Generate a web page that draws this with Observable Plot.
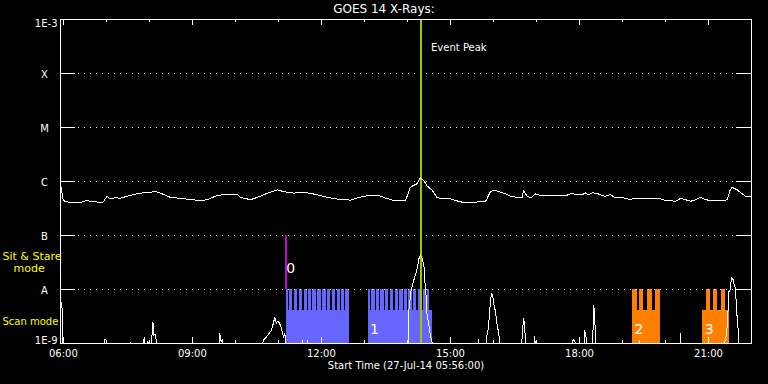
<!DOCTYPE html>
<html><head><meta charset="utf-8">
<script src="https://cdn.jsdelivr.net/npm/d3@7"></script>
<script src="https://cdn.jsdelivr.net/npm/@observablehq/plot@0.6"></script>
<style>html,body{margin:0;padding:0;background:#000;overflow:hidden}</style>
</head><body><div id="chart"></div>
<script>
// ---------- data ----------
const titleText = "GOES 14 X-Rays:";
const xAxisTitle = "Start Time (27-Jul-14 05:56:00)";
const day = "2014-07-27";
const startTime = "05:56";
const endTime = "22:00";

const yTickValues = [1e-3, 1e-4, 1e-5, 1e-6, 1e-7, 1e-8, 1e-9];
const yTickLabels = ["1E-3", "X", "M", "C", "B", "A", "1E-9"];
const flareLevels = [1e-4, 1e-5, 1e-6, 1e-7, 1e-8];

const xTickLabels = ["06:00", "09:00", "12:00", "15:00", "18:00", "21:00"];
const xMinorTicks = ["07:00","08:00","10:00","11:00","13:00","14:00","16:00","17:00","19:00","20:00","22:00"];

// GOES long channel (1-8 A), W/m^2
const longChannel = [
  ["05:57",7.8e-7],["05:59",5.1e-7],["06:00",4.5e-7],["06:03",4.2e-7],["06:15",4.1e-7],["06:25",4.1e-7],
  ["06:31",4.4e-7],["06:40",4.3e-7],["06:50",4.1e-7],["06:55",4.1e-7],["07:01",5.3e-7],["07:05",4.8e-7],
  ["07:12",5.0e-7],["07:20",4.9e-7],["07:30",5.4e-7],["07:40",5.8e-7],["07:47",6.1e-7],["08:00",6.2e-7],
  ["08:08",6.6e-7],["08:18",5.9e-7],["08:29",5.1e-7],["08:47",4.8e-7],["09:00",4.6e-7],["09:11",4.45e-7],
  ["09:21",4.6e-7],["09:34",5.5e-7],["09:43",5.7e-7],["10:03",5.7e-7],["10:07",5.1e-7],["10:21",4.6e-7],
  ["10:31",5.1e-7],["10:45",6.1e-7],["10:59",7.0e-7],["11:07",6.5e-7],["11:21",6.1e-7],["11:38",6.25e-7],
  ["11:54",5.7e-7],["12:08",5.1e-7],["12:27",4.6e-7],["12:37",4.6e-7],["12:40",4.45e-7],["12:50",5.0e-7],
  ["13:04",5.45e-7],["13:22",5.4e-7],["13:30",4.9e-7],["13:40",4.5e-7],["13:57",4.5e-7],["13:59",5.1e-7],
  ["14:04",7.8e-7],["14:08",8.4e-7],["14:13",9.0e-7],["14:18",1.17e-6],["14:23",1.04e-6],["14:27",8.4e-7],
  ["14:34",7.0e-7],["14:41",5.1e-7],["14:46",4.8e-7],["15:00",4.8e-7],["15:07",4.45e-7],["15:21",4.0e-7],
  ["15:35",4.0e-7],["15:38",4.3e-7],["15:49",4.3e-7],["15:51",4.8e-7],["15:56",6.6e-7],["16:03",6.8e-7],
  ["16:10",6.3e-7],["16:17",5.9e-7],["16:24",5.3e-7],["16:33",5.1e-7],["16:40",5.1e-7],["16:42",6.8e-7],
  ["16:47",5.3e-7],["16:52",5.0e-7],["16:59",5.9e-7],["17:06",5.5e-7],["17:20",5.5e-7],["17:43",5.6e-7],
  ["17:47",5.9e-7],["18:01",5.8e-7],["18:05",5.8e-7],["18:08",6.2e-7],["18:12",5.7e-7],["18:19",6.2e-7],
  ["18:26",5.9e-7],["18:36",5.3e-7],["18:43",5.7e-7],["18:50",5.0e-7],["19:01",5.0e-7],["19:11",4.6e-7],
  ["19:15",4.9e-7],["19:21",4.8e-7],["19:35",4.8e-7],["19:39",4.9e-7],["19:49",4.9e-7],["19:53",4.8e-7],
  ["20:00",4.45e-7],["20:07",4.45e-7],["20:14",4.25e-7],["20:21",4.9e-7],["20:28",4.6e-7],["20:35",4.3e-7],
  ["20:42",4.6e-7],["20:49",5.1e-7],["20:56",4.6e-7],["21:03",4.45e-7],["21:21",4.45e-7],["21:26",4.6e-7],
  ["21:30",6.8e-7],["21:33",7.8e-7],["21:40",7.0e-7],["21:47",5.9e-7],["21:52",5.3e-7],["22:00",5.3e-7]
];

// GOES short channel (0.5-4 A), W/m^2 (values below 1E-9 fall off the plot)
const shortChannel = [
  ["05:57",5.8e-9],["05:58",5.8e-9],["05:59",7e-10],
  ["06:57",7e-10],["06:58",1.2e-9],["07:00",1.15e-9],["07:01",7e-10],
  ["07:32",7e-10],["07:33",1.05e-9],["07:34",7e-10],
  ["07:48",7e-10],["07:52",1.1e-9],["07:53",1.3e-9],["07:55",7e-10],["07:58",1.1e-9],["08:00",7e-10],
  ["08:03",1.1e-9],["08:05",2.45e-9],["08:06",1.4e-9],["08:08",1.5e-9],["08:10",1.05e-9],["08:11",7e-10],
  ["09:37",7e-10],["09:38",1.55e-9],["09:40",1.1e-9],["09:42",1.2e-9],["09:43",7e-10],
  ["10:36",7e-10],["10:39",1.14e-9],["10:43",1.31e-9],["10:46",1.47e-9],["10:50",1.74e-9],["10:53",2.38e-9],
  ["10:55",3.07e-9],["10:57",2.35e-9],["10:59",2.59e-9],["11:01",2.45e-9],["11:04",2.0e-9],["11:05",1.74e-9],
  ["11:07",1.31e-9],["11:09",1.55e-9],["11:10",1.05e-9],["11:12",7e-10],
  ["11:33",7e-10],["11:34",1.14e-9],["11:35",7e-10],["11:40",7e-10],["11:41",1.14e-9],["11:42",7e-10],
  ["14:00",7e-10],["14:01",1.06e-9],["14:02",4.08e-9],["14:05",9.57e-9],["14:08",1.36e-8],["14:11",1.82e-8],
  ["14:14",2.59e-8],["14:16",3.71e-8],["14:18",4.27e-8],["14:20",3.97e-8],["14:23",2.78e-8],["14:24",1.6e-8],
  ["14:26",7.74e-9],["14:27",3.8e-9],["14:30",2.15e-9],["14:32",1.41e-9],["14:34",1.14e-9],["14:36",7e-10],
  ["15:38",7e-10],["15:39",1.19e-9],["15:40",7e-10],
  ["15:50",7e-10],["15:51",1.41e-9],["15:53",2.0e-9],["15:55",4.39e-9],["15:57",8.32e-9],["15:59",7.74e-9],
  ["16:00",5.82e-9],["16:03",3.8e-9],["16:05",2.32e-9],["16:07",1.62e-9],["16:09",1.06e-9],["16:10",7e-10],
  ["16:39",7e-10],["16:40",1.35e-9],["16:42",2.94e-9],["16:43",2.42e-9],["16:45",1.06e-9],["16:46",7e-10],
  ["16:56",7e-10],["16:57",1.35e-9],["16:58",7e-10],["16:59",1.1e-9],["17:00",7e-10],
  ["17:49",7e-10],["17:50",1.1e-9],["17:52",1.19e-9],["17:54",1.05e-9],["17:55",7e-10],
  ["18:06",7e-10],["18:07",1.74e-9],["18:09",1.47e-9],["18:10",7e-10],
  ["18:17",7e-10],["18:18",1.22e-9],["18:19",1.87e-9],["18:20",5.06e-9],["18:21",3.4e-9],["18:22",1.74e-9],["18:23",7e-10],
  ["19:23",7e-10],["19:24",1.14e-9],["19:25",7e-10],
  ["20:20",7e-10],["20:21",1.51e-9],["20:22",7e-10],
  ["21:22",7e-10],["21:23",1.1e-9],["21:25",1.41e-9],["21:27",3.07e-9],["21:28",8.91e-9],["21:30",9.57e-9],
  ["21:31",1.19e-8],["21:32",1.65e-8],["21:34",1.58e-8],["21:35",1.36e-8],["21:37",1.1e-8],["21:38",8.91e-9],
  ["21:39",4.39e-9],["21:41",2.15e-9],["21:42",1.22e-9],["21:44",7e-10],["22:00",7e-10]
];

const eventPeakTime = "14:19";
const eventPeakLabel = "Event Peak";
const sitStareTime = "11:11";
const sitStareLabel = "0";

// scan observations: label, program, start, end
const obsLabels = ["0", "1", "2", "3"];
const obsProgram = ["P1", "P1", "P2", "P2"];
const obsStart = ["11:11", "13:05", "19:14", "20:52"];
const obsEnd = ["12:39", "14:35", "19:53", "21:30"];
const obsBaseFlux = 4.1e-9; // top of the solid scan band

// individual raster exposures: obs index, start, end
const exposures = [
  [0,"11:11","11:14"],[0,"11:16","11:20"],[0,"11:22","11:27"],[0,"11:29","11:34"],[0,"11:36","11:40"],
  [0,"11:42","11:46"],[0,"11:48","11:53"],[0,"11:55","12:00"],[0,"12:02","12:07"],[0,"12:09","12:13"],
  [0,"12:15","12:20"],[0,"12:22","12:26"],[0,"12:28","12:32"],[0,"12:34","12:39"],
  [1,"13:05","13:08"],[1,"13:10","13:15"],[1,"13:17","13:21"],[1,"13:23","13:28"],[1,"13:30","13:34"],
  [1,"13:36","13:41"],[1,"13:43","13:47"],[1,"13:49","13:54"],[1,"13:56","14:00"],[1,"14:02","14:07"],
  [1,"14:09","14:13"],[1,"14:15","14:20"],[1,"14:22","14:26"],[1,"14:28","14:31"],
  [2,"19:14","19:21"],[2,"19:24","19:30"],[2,"19:35","19:42"],[2,"19:46","19:53"],
  [3,"20:57","21:03"],[3,"21:07","21:13"],[3,"21:18","21:24"]
];

const sitStareLabelText = ["Sit & Stare", "mode"];
const scanModeLabelText = "Scan mode";

// ---------- build ----------
const t = s => new Date(`${day}T${s}:00Z`);
const longData = longChannel.map(([s, v]) => ({time: t(s), flux: v}));
const shortData = shortChannel.map(([s, v]) => ({time: t(s), flux: v}));
const obs = obsLabels.map((l, i) => ({label: l, program: obsProgram[i], start: t(obsStart[i]), end: t(obsEnd[i])}));
const expo = exposures.map(([i, a, b]) => ({program: obsProgram[i], start: t(a), end: t(b)}));
const W = "#ffffff";
const crisp = "crispEdges";

const chart = Plot.plot({
  width: 768, height: 384,
  marginTop: 19, marginBottom: 41, marginLeft: 60, marginRight: 17,
  style: {background: "#000", color: W, fontFamily: "DejaVu Sans", fontSize: "10px"},
  x: {type: "utc", domain: [t(startTime), t(endTime)], axis: null},
  y: {type: "log", domain: [1e-9, 1e-3], axis: null},
  color: {type: "ordinal", domain: ["P1", "P2"], range: ["#6666ff", "#ff8000"]},
  marks: [
    // scan bands
    Plot.rect(obs, {x1: "start", x2: "end", y1: 1e-9, y2: obsBaseFlux, fill: "program", shapeRendering: crisp}),
    Plot.rect(expo, {x1: "start", x2: "end", y1: 1e-9, y2: 1e-8, fill: "program", shapeRendering: crisp}),
    // flare-class grid
    Plot.ruleY(flareLevels, {stroke: W, strokeDasharray: "1,5", strokeDashoffset: 3, insetLeft: 15, insetRight: 15, shapeRendering: crisp}),
    Plot.ruleY(flareLevels, {stroke: W, insetRight: 676, shapeRendering: crisp}),
    Plot.ruleY(flareLevels, {stroke: W, insetLeft: 676, shapeRendering: crisp}),
    // sit & stare marker
    Plot.ruleX([t(sitStareTime)], {x: d => d, y1: 1e-8, y2: 1e-7, stroke: "#cc00cc", strokeWidth: 2, shapeRendering: crisp}),
    // event peak
    Plot.ruleX([t(eventPeakTime)], {x: d => d, stroke: "#99cc00", strokeWidth: 2, shapeRendering: crisp}),
    Plot.text([eventPeakLabel], {x: t(eventPeakTime), frameAnchor: "top", dy: 24, dx: 10, textAnchor: "start", fill: W}),
    // light curves
    Plot.line(longData, {x: "time", y: "flux", stroke: W, strokeWidth: 1, clip: true, shapeRendering: crisp}),
    Plot.line(shortData, {x: "time", y: "flux", stroke: W, strokeWidth: 1, clip: true, shapeRendering: crisp}),
    // observation numbers
    Plot.text([sitStareLabel], {x: t(sitStareTime), frameAnchor: "bottom", dy: -71, textAnchor: "start", fontSize: 14, fill: W}),
    Plot.text(obs.slice(1), {x: "start", text: "label", frameAnchor: "bottom", dy: -10, dx: 2, textAnchor: "start", fontSize: 14, fill: W}),
    // frame + ticks
    Plot.frame({stroke: W, shapeRendering: crisp}),
    Plot.ruleX(xTickLabels.map(t), {x: d => d, stroke: W, insetBottom: 318, shapeRendering: crisp}),
    Plot.ruleX(xTickLabels.map(t), {x: d => d, stroke: W, insetTop: 318, shapeRendering: crisp}),
    Plot.ruleX(xMinorTicks.map(t), {x: d => d, stroke: W, insetBottom: 321, shapeRendering: crisp}),
    Plot.ruleX(xMinorTicks.map(t), {x: d => d, stroke: W, insetTop: 321, shapeRendering: crisp}),
    // y tick labels
    Plot.text([0], {y: yTickValues[0], text: () => yTickLabels[0], frameAnchor: "left", dx: -3, dy: 4, textAnchor: "end", fill: W}),
    Plot.text([0], {y: yTickValues[6], text: () => yTickLabels[6], frameAnchor: "left", dx: -3, dy: -3, textAnchor: "end", fill: W}),
    Plot.text(yTickValues.slice(1, 6), {y: d => d, text: (d, i) => yTickLabels[i + 1], frameAnchor: "left", dx: -16, dy: 1, textAnchor: "middle", fill: W}),
    // x tick labels + axis title
    Plot.text(xTickLabels, {x: d => t(d), text: d => d, frameAnchor: "bottom", dy: 13, fill: W}),
    Plot.text([xAxisTitle], {frameAnchor: "bottom", dy: 25, fill: W}),
    // title
    Plot.text([titleText], {frameAnchor: "top", dy: -10, dx: -22, fontSize: 12, lineAnchor: "middle", fill: W}),
    // mode labels
    Plot.text([sitStareLabelText[0]], {frameAnchor: "bottom-left", dx: -58, dy: -84, textAnchor: "start", fontSize: 11, fill: "#ffff00"}),
    Plot.text([sitStareLabelText[1]], {frameAnchor: "bottom-left", dx: -47, dy: -72, textAnchor: "start", fontSize: 11, fill: "#ffff00"}),
    Plot.text([scanModeLabelText], {frameAnchor: "bottom-left", dx: -58, dy: -19, textAnchor: "start", fill: "#ffff00"})
  ]
});
document.getElementById("chart").appendChild(chart);
</script>
</body></html>
